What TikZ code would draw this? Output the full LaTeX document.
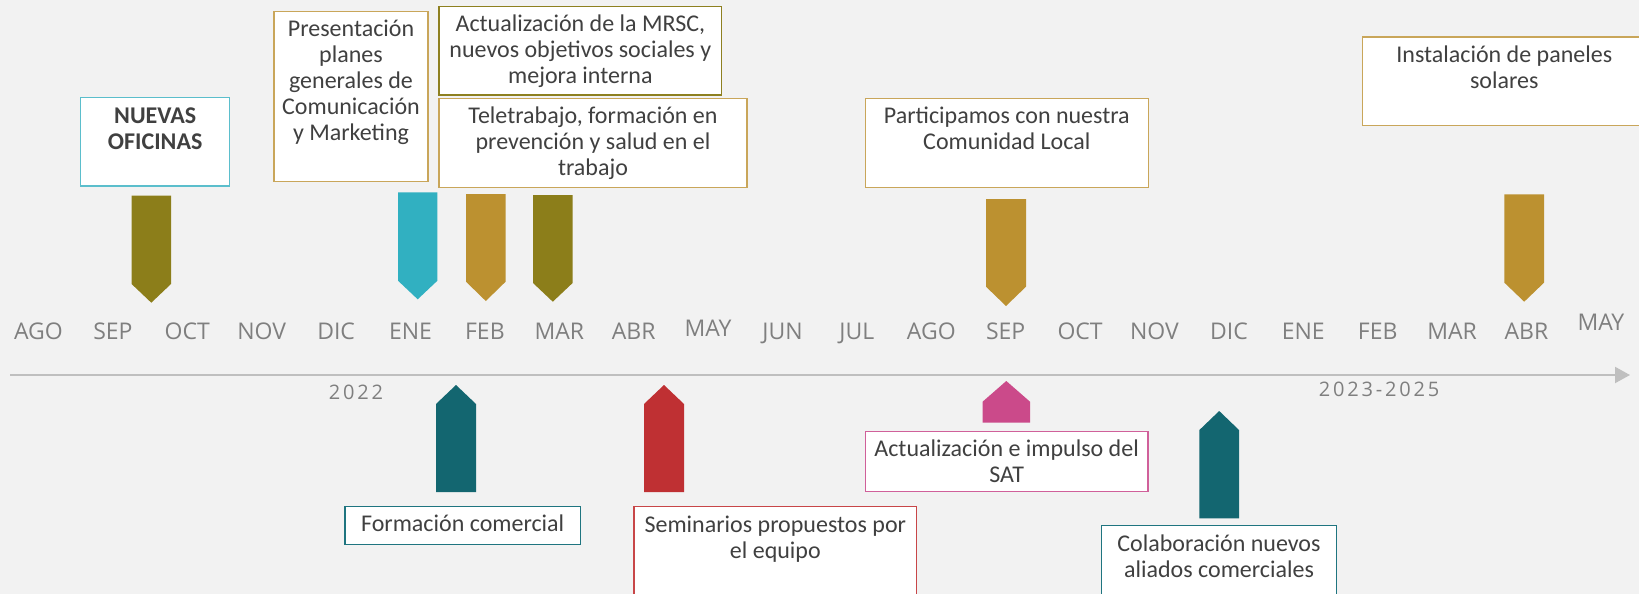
\documentclass[tikz,border=0pt]{standalone}
\usepackage{fontspec}
\setmainfont{Carlito}
\newfontfamily\mesfont{Open Sans}
\newfontfamily\anyofont[LetterSpace=14]{Open Sans}
\usepackage{xcolor}
\usetikzlibrary{arrows.meta,positioning}
\definecolor{fondo}{RGB}{242,242,242}
\definecolor{textogris}{RGB}{64,64,64}
\definecolor{mesgris}{RGB}{127,127,127}
\definecolor{ejegris}{RGB}{191,191,191}
\definecolor{oliva}{RGB}{140,126,26}
\definecolor{cian}{RGB}{49,176,193}
\definecolor{oro}{RGB}{188,145,48}
\definecolor{petroleo}{RGB}{19,102,112}
\definecolor{rojo}{RGB}{191,48,51}
\definecolor{rosa}{RGB}{203,74,138}
\definecolor{cianclaro}{RGB}{91,190,204}
\definecolor{oroclaro}{RGB}{201,166,90}
\definecolor{olivaborde}{RGB}{142,128,32}
\definecolor{petroleoborde}{RGB}{31,117,128}
\definecolor{rojoborde}{RGB}{200,70,72}
\definecolor{rosaborde}{RGB}{208,96,154}

% marker: colour, centre x, half width, base y, shoulder y, tip y
\newcommand{\hito}[6]{%
  \fill[#1] (#2-#3,#4) -- (#2+#3,#4) -- (#2+#3,#5) -- (#2,#6) -- (#2-#3,#5) -- cycle;}

\begin{document}
\begin{tikzpicture}[
    x=1pt, y=-1pt,
    caja/.style={draw=#1, fill=white, line width=1.3pt, inner sep=0pt},
    texto/.style={font=\fontsize{24}{26}\selectfont, text=textogris,
        align=center, anchor=base, inner sep=0pt},
    mes/.style={font=\mesfont\fontsize{23}{26}\selectfont, text=mesgris,
        anchor=base, inner sep=0pt},
    anyo/.style={font=\anyofont\fontsize{20}{22}\selectfont, text=mesgris,
        anchor=base, inner sep=0pt},
    eje/.style={-{Triangle[length=15pt,width=16pt]}, ejegris, line width=2pt},
]
\fill[fondo] (0,0) rectangle (1639,594);
\useasboundingbox (0,0) rectangle (1639,594);
\clip (0,0) rectangle (1639,594);

% === TIME AXIS ===
\coordinate (ejeIni) at (10,375);
\coordinate (ejeFin) at (1630,375);
\draw[eje] (ejeIni) -- (ejeFin);

\foreach \mes/\yb [count=\i from 0] in {AGO/339,SEP/339,OCT/339,NOV/339,DIC/339,
    ENE/339,FEB/339,MAR/339,ABR/339,MAY/336,JUN/339,JUL/339,AGO/339,SEP/339,
    OCT/339,NOV/339,DIC/339,ENE/339,FEB/339,MAR/339,ABR/339,MAY/330}
  \node[mes] (m\i) at (38.5+74.4*\i,\yb) {\mes};

\node[anyo] (a2022) at (356,399.5) {2022};
\node[anyo] (a2023) at (1379,396.5) {2023-2025};

% === MARKERS ABOVE THE AXIS ===
\hito{oliva}{151.3}{19.7}{195.7}{284}{302.7}
\hito{cian}{417.7}{19.7}{192.3}{280.7}{299.3}
\hito{oro}{485.8}{19.8}{194}{281.7}{301}
\hito{oliva}{552.8}{19.8}{195}{283}{301.7}
\hito{oro}{1006}{20}{199}{286.7}{306}
\hito{oro}{1524.2}{19.8}{194.3}{282.7}{301.7}

% === MARKERS BELOW THE AXIS ===
\hito{petroleo}{456}{20}{492}{404}{385}
\hito{rojo}{664}{20}{492}{404}{385}
\hito{rosa}{1006.3}{23.7}{422.7}{401.7}{381}
\hito{petroleo}{1219.2}{19.8}{518.3}{430}{411}

% === EVENT BOXES (top) ===
% (texto is anchored at the baseline of its last line)
\node[caja=cianclaro, minimum width=149pt, minimum height=88.3pt] (nuevas) at (155.2,141.85) {};
\node[texto, font=\bfseries\fontsize{24}{26}\selectfont] (nuevas-t) at ([yshift=-52.6pt]nuevas.north) {NUEVAS\\OFICINAS};

\node[caja=oroclaro, minimum width=154pt, minimum height=170.4pt] (presenta) at (351,96.5) {};
\node[texto] (presenta-t) at ([yshift=-129.4pt]presenta.north) {Presentación\\planes\\generales de\\Comunicación\\y Marketing};

\node[caja=olivaborde, minimum width=282.7pt, minimum height=88.7pt] (mrsc) at (580.35,50.65) {};
\node[texto] (mrsc-t) at ([yshift=-78pt]mrsc.north) {Actualización de la MRSC,\\nuevos objetivos sociales y\\mejora interna};

\node[caja=oroclaro, minimum width=308pt, minimum height=88.6pt] (tele) at (593,143) {};
\node[texto] (tele-t) at ([yshift=-77.3pt]tele.north) {Teletrabajo, formación en\\prevención y salud en el\\trabajo};

\node[caja=oroclaro, minimum width=283pt, minimum height=88.6pt] (comunidad) at (1006.8,143) {};
\node[texto] (comunidad-t) at ([yshift=-51.6pt]comunidad.north) {Participamos con nuestra\\Comunidad Local};

\node[caja=oroclaro, minimum width=284pt, minimum height=88.7pt] (solares) at (1504.3,81.35) {};
\node[texto] (solares-t) at ([yshift=-52.3pt]solares.north) {Instalación de paneles\\solares};

% === EVENT BOXES (bottom) ===
\node[caja=petroleoborde, minimum width=235.3pt, minimum height=38pt] (formacion) at (462.65,525.3) {};
\node[texto] (formacion-t) at ([yshift=-25.4pt]formacion.north) {Formación comercial};

\node[caja=rojoborde, minimum width=282.7pt, minimum height=88.7pt] (seminarios) at (775.35,551.05) {};
\node[texto] (seminarios-t) at ([yshift=-52.3pt]seminarios.north) {Seminarios propuestos por\\el equipo};

\node[caja=rosaborde, minimum width=282.7pt, minimum height=59.6pt] (sat) at (1006.65,461.5) {};
\node[texto] (sat-t) at ([yshift=-51pt]sat.north) {Actualización e impulso del\\SAT};

\node[caja=petroleoborde, minimum width=235.4pt, minimum height=88.7pt] (aliados) at (1219,569.65) {};
\node[texto] (aliados-t) at ([yshift=-52.4pt]aliados.north) {Colaboración nuevos\\aliados comerciales};

\end{tikzpicture}
\end{document}
